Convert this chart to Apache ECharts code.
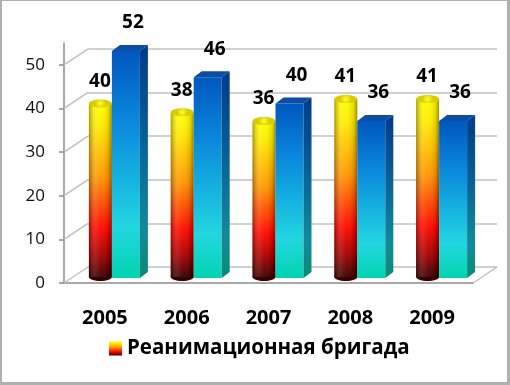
<!DOCTYPE html>
<html><head><meta charset="utf-8">
<script src="https://cdn.jsdelivr.net/npm/echarts@6/dist/echarts.min.js"></script>
<style>
html,body{margin:0;padding:0;background:#fff}
#wrap{position:relative;width:510px;height:385px}
#c{width:510px;height:385px}
#f{position:absolute;left:0;top:0;width:510px;height:385px;box-sizing:border-box;border-style:solid;border-color:#b0b0b0;border-width:1px 3px 3px 2px;pointer-events:none}
</style>
</head><body>
<div id="wrap"><div id="c"></div><div id="f"></div></div>
<script>
const years = ['2005', '2006', '2007', '2008', '2009'];
const reanimation = [40, 38, 36, 41, 41];
const secondSeries = [52, 46, 40, 36, 36];
const yTicks = [0, 10, 20, 30, 40, 50];
const legendName = 'Реанимационная бригада';

const G = echarts.graphic;
const FONT = '"Open Sans"';

function yellowGrad() {
  return new G.LinearGradient(0, 0, 0, 1, [
    {offset: 0, color: '#ffff00'}, {offset: 0.12, color: '#ffec00'},
    {offset: 0.42, color: '#ff9800'}, {offset: 0.72, color: '#ff0800'},
    {offset: 0.88, color: '#a00000'}, {offset: 1, color: '#3a0000'}]);
}

function renderCylinder(params, api) {
  const idx = api.value(0), v = api.value(1);
  const pTop = api.coord([idx, v]);
  const pBase = api.coord([idx, 0]);
  const c = pTop[0];
  const rx = 11.5, ry = 4;
  const cc = c - 4.5;
  const top = pTop[1] - 5, bottom = pBase[1] - 6;
  return {
    type: 'group',
    children: [
      {type: 'ellipse', shape: {cx: cc, cy: bottom, rx: rx, ry: ry}, style: {fill: '#3a0000'}},
      {type: 'rect', shape: {x: cc - rx, y: top, width: rx * 2, height: bottom - top}, style: {fill: yellowGrad()}},
      {type: 'rect', shape: {x: cc - rx, y: top, width: rx * 2, height: bottom - top},
        style: {fill: new G.LinearGradient(0, 0, 1, 0, [
          {offset: 0, color: 'rgba(0,0,0,0.35)'}, {offset: 0.3, color: 'rgba(255,255,255,0.12)'},
          {offset: 0.55, color: 'rgba(255,255,255,0.04)'}, {offset: 0.85, color: 'rgba(0,0,0,0.12)'},
          {offset: 1, color: 'rgba(0,0,0,0.4)'}])}},
      {type: 'ellipse', shape: {cx: cc, cy: top, rx: rx, ry: ry},
        style: {fill: new G.RadialGradient(0.5, 0.5, 0.7, [{offset: 0, color: '#ffff30'}, {offset: 1, color: '#d8cc00'}])}},
      {type: 'text', style: {text: String(v), x: c - 5, y: pTop[1] - 27, align: 'center', verticalAlign: 'middle',
        font: 'bold 19px ' + FONT, fill: '#000'}}
    ]
  };
}

function renderBox(params, api) {
  const idx = api.value(0), v = api.value(1);
  const pTop = api.coord([idx, v]);
  const pBase = api.coord([idx, 0]);
  const c = pTop[0];
  const L = c + 7, R = c + 35, dx = 8, dy = -6;
  const yt = pTop[1] - 5, yb = pBase[1] - 5;
  return {
    type: 'group',
    children: [
      {type: 'rect', shape: {x: L, y: yt, width: R - L, height: yb - yt},
        style: {fill: new G.LinearGradient(0, 0, 0, 1, [
          {offset: 0, color: '#0057be'}, {offset: 0.3, color: '#0a86dc'},
          {offset: 0.55, color: '#15b0e0'}, {offset: 0.78, color: '#22d6e0'},
          {offset: 1, color: '#02d4b0'}])}},
      {type: 'polygon', shape: {points: [[L, yt], [L + dx, yt + dy], [R + dx, yt + dy], [R, yt]]},
        style: {fill: '#0a4ea6'}},
      {type: 'polygon', shape: {points: [[R, yt], [R + dx, yt + dy], [R + dx, yb + dy], [R, yb]]},
        style: {fill: new G.LinearGradient(0, 0, 0, 1, [
          {offset: 0, color: '#003a88'}, {offset: 0.5, color: '#0a6a98'},
          {offset: 0.8, color: '#138a9a'}, {offset: 1, color: '#0a8a70'}])}},
      {type: 'text', style: {text: String(v), x: c + 28, y: pTop[1] - 33, align: 'center', verticalAlign: 'middle',
        font: 'bold 19px ' + FONT, fill: '#000'}}
    ]
  };
}

function renderWall(params, api) {
  const v = api.value(1);
  const p = api.coord([0, v]);
  const cs = params.coordSys;
  const x = cs.x;
  const shapes = [{type: 'line', shape: {x1: x, y1: p[1], x2: x + 24, y2: p[1] - 16},
    style: {stroke: '#c0c0c0', lineWidth: 1.5}}];
  if (v === 0) {
    shapes.push({type: 'line', shape: {x1: x + cs.width, y1: p[1], x2: x + cs.width + 24, y2: p[1] - 16},
      style: {stroke: '#c0c0c0', lineWidth: 1.5}});
  }
  return {type: 'group', children: shapes};
}

const chart = echarts.init(document.getElementById('c'), null, {renderer: 'canvas'});
chart.setOption({
  animation: false,
  backgroundColor: 'transparent',
  grid: [
    {left: 64, right: 37, top: 43, bottom: 102},
    {left: 88, right: 13, top: 49, bottom: 118}
  ],
  legend: {
    data: [legendName], left: 109, top: 338, padding: 0, itemWidth: 13, itemHeight: 14, icon: 'rect',
    textStyle: {fontFamily: 'Open Sans', fontWeight: 'bold', fontSize: 20.5, color: '#000'}
  },
  xAxis: [
    {type: 'category', gridIndex: 0, data: years,
      axisLine: {lineStyle: {color: '#8c8c8c', width: 1.5}},
      axisTick: {length: 6, lineStyle: {color: '#8c8c8c', width: 1.5}},
      axisLabel: {margin: 25, fontFamily: 'Open Sans', fontWeight: 'bold', fontSize: 20, color: '#000'}},
    {type: 'category', gridIndex: 1, data: years, show: false}
  ],
  yAxis: [
    {type: 'value', gridIndex: 0, min: 0, max: 55, interval: 5,
      axisLine: {show: true, lineStyle: {color: '#8c8c8c', width: 1.5}},
      axisTick: {show: true, length: 5, customValues: yTicks, lineStyle: {color: '#8c8c8c', width: 1.5}},
      axisLabel: {customValues: yTicks, margin: 19, fontFamily: 'Open Sans', fontSize: 17, color: '#111'},
      splitLine: {show: false}},
    {type: 'value', gridIndex: 1, min: 0, max: 50, interval: 10,
      axisLine: {show: false}, axisTick: {show: false}, axisLabel: {show: false},
      splitLine: {show: true, lineStyle: {color: '#c0c0c0', width: 1.5}}}
  ],
  series: [
    {type: 'custom', name: 'wall', xAxisIndex: 0, yAxisIndex: 0, silent: true,
      data: yTicks.map(v => [0, v]), renderItem: renderWall, z: 1},
    {type: 'custom', name: legendName, xAxisIndex: 0, yAxisIndex: 0,
      itemStyle: {color: yellowGrad()},
      data: reanimation.map((v, i) => [i, v]), renderItem: renderCylinder, z: 3},
    {type: 'custom', name: 'series2', xAxisIndex: 0, yAxisIndex: 0,
      itemStyle: {color: '#0a86dc'},
      data: secondSeries.map((v, i) => [i, v]), renderItem: renderBox, z: 4}
  ]
});
</script>
</body></html>
